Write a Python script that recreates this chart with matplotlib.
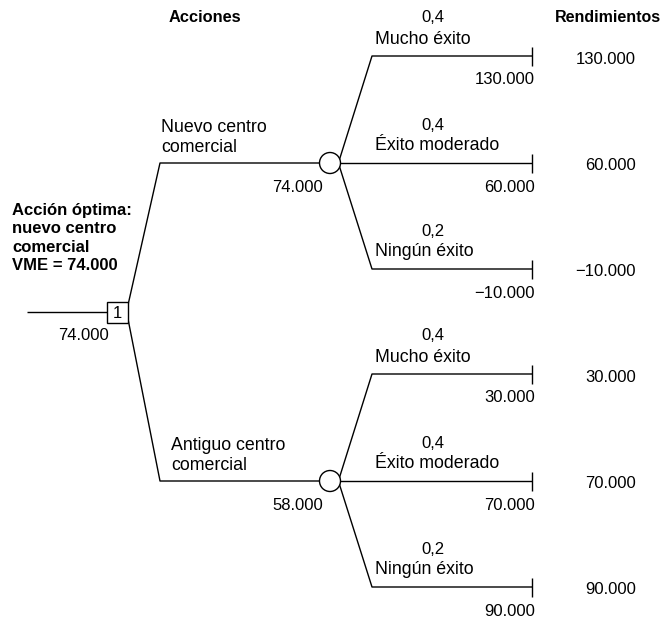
import matplotlib.pyplot as plt
from matplotlib.patches import Circle, Rectangle

plt.rcParams['font.family'] = ['Liberation Sans', 'DejaVu Sans']

# data
actions = ["Nuevo centro\ncomercial", "Antiguo centro\ncomercial"]
outcomes = ["Mucho éxito", "Éxito moderado", "Ningún éxito"]
probs = [0.4, 0.4, 0.2]
payoffs = [[130000, 60000, -10000],
           [30000, 70000, 90000]]


def fmt(v):
    s = f"{abs(v):,.0f}".replace(",", ".")
    return ("\u2212" if v < 0 else "") + s


evs = [sum(p * v for p, v in zip(probs, row)) for row in payoffs]
best = max(range(len(evs)), key=lambda i: evs[i])

# layout (pixels)
W, H = 664, 621
dec_x, dec_y, box = 117.5, 312, 21
elbow_x = 160
node_x, node_r = 330, 10.5
node_ys = [163, 481]
out_x, end_x = 372, 532
out_dy = [-107, 0, 106]
act_label_x = [161, 171]
fs_txt = 12.8
fs_num = 12

fig = plt.figure(figsize=(W / 100, H / 100), dpi=100)
ax = fig.add_axes([0, 0, 1, 1])
ax.set_xlim(0, W)
ax.set_ylim(H, 0)
ax.axis("off")

lw = 1.0
kw = dict(color="black", lw=lw, solid_capstyle="butt")

# decision node
ax.plot([27, dec_x - box / 2], [dec_y, dec_y], **kw)
ax.add_patch(Rectangle((dec_x - box / 2, dec_y - box / 2), box, box,
                       fc="white", ec="black", lw=lw, zorder=3))
ax.text(dec_x, dec_y + 1, "1", ha="center", va="center", fontsize=fs_num, zorder=4)
ax.text(109, 335, fmt(evs[best]), ha="right", va="center", fontsize=fs_num)

for i, (act, ny) in enumerate(zip(actions, node_ys)):
    sy = dec_y - 7 if ny < dec_y else dec_y + 7
    ax.plot([dec_x + box / 2, elbow_x, node_x], [sy, ny, ny], **kw)
    ax.text(act_label_x[i], ny - 6.5, act, ha="left", va="bottom",
            fontsize=fs_txt, linespacing=1.3)
    ax.add_patch(Circle((node_x, ny), node_r, fc="white", ec="black",
                        lw=lw, zorder=3))
    ax.text(323, ny + 24, fmt(evs[i]), ha="right", va="center", fontsize=fs_num)

    for j, (name, p, v) in enumerate(zip(outcomes, probs, payoffs[i])):
        oy = ny + out_dy[j]
        if out_dy[j] == 0:
            ax.plot([node_x, end_x], [ny, ny], **kw)
        else:
            sy2 = ny - 2 if out_dy[j] < 0 else ny + 2
            ax.plot([node_x + 9, out_x, end_x], [sy2, oy, oy], **kw)
        ax.plot([end_x, end_x], [oy - 9, oy + 10], **kw)
        ax.text(433, oy - 38, f"{p:.1f}".replace(".", ","), ha="center",
                va="center", fontsize=fs_num)
        ax.text(375, oy - 17, name, ha="left", va="center", fontsize=fs_txt)
        ax.text(535, oy + 24, fmt(v), ha="right", va="center", fontsize=fs_num)
        ax.text(636, oy + 3, fmt(v), ha="right", va="center", fontsize=fs_num)

# headers and summary
ax.text(205, 17, "Acciones", ha="center", va="center", fontsize=11.8,
        fontweight="bold")
ax.text(661, 17, "Rendimientos", ha="right", va="center", fontsize=11.5,
        fontweight="bold")
summary = "Acción óptima:\nnuevo centro\ncomercial\nVME = " + fmt(evs[best])
ax.text(12, 238, summary, ha="left", va="center", fontsize=12,
        fontweight="bold", linespacing=1.3)

fig.savefig("out.png", dpi=100)
